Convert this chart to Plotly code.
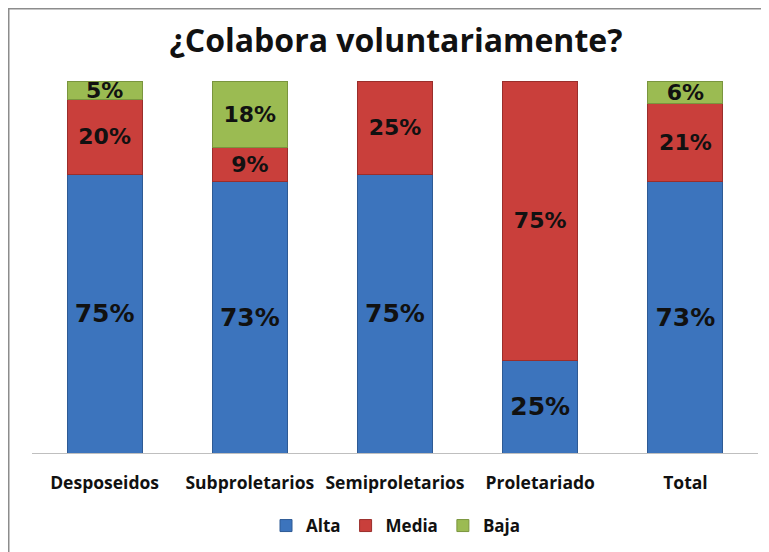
import plotly.graph_objects as go

categories = ["Desposeidos", "Subproletarios", "Semiproletarios", "Proletariado", "Total"]
alta = [75, 73, 75, 25, 73]
media = [20, 9, 25, 75, 21]
baja = [5, 18, None, None, 6]

series = [
    ("Alta", alta, "#3C74BD", "#2E5A94", 25),
    ("Media", media, "#C93F3B", "#9A2E2B", 22),
    ("Baja", baja, "#9BBB52", "#7A953E", 22),
]

fig = go.Figure()
for name, vals, col, lcol, fs in series:
    fig.add_trace(go.Bar(
        x=categories, y=vals, name=name,
        marker=dict(color=col, line=dict(color=lcol, width=1)),
        texttemplate="<b>%{y:.0f}%</b>", textposition="inside",
        insidetextanchor="middle", constraintext="none",
        textfont=dict(family="DejaVu Sans", size=fs, color="#111111"),
        hoverinfo="skip",
    ))

OFF = 8  # page margin around the figure
W, H = 769, 552
# plot area in reference pixels: x 32..758, y 81..453
L, R, T, B = 32 - OFF, W - (758 - OFF), 81 - OFF, H - (453 - OFF)
pw, ph = W - L - R, H - T - B

def px_x(p):
    return (p - OFF - L) / pw

def px_y(p):
    return (H - B - (p - OFF)) / ph

fig.update_layout(
    width=W, height=H,
    margin=dict(l=L, r=R, t=T, b=B, autoexpand=False),
    paper_bgcolor="white", plot_bgcolor="white",
    barmode="stack", bargap=0.484,
    title=dict(
        text="<b>¿Colabora voluntariamente?</b>",
        x=(396 - OFF) / W, xanchor="center", y=1 - (41 - OFF) / H, yanchor="middle",
        font=dict(family="Open Sans", size=32, color="#111111"),
    ),
    showlegend=True,
    legend=dict(
        orientation="h", x=px_x(396), xanchor="center",
        y=px_y(526), yanchor="middle",
        font=dict(family="Open Sans", size=17, color="#111111", weight="bold"),
        traceorder="normal", itemwidth=30,
    ),
    xaxis=dict(
        showline=True, linecolor="#BFBFBF", linewidth=1,
        ticks="", showgrid=False,
        tickfont=dict(family="Open Sans", size=17.5, color="#111111"),
        ticklabelstandoff=14,
    ),
    yaxis=dict(range=[0, 100], visible=False, showgrid=False),
    shapes=[
        dict(type="rect", xref="paper", yref="paper",
             x0=px_x(8.5), x1=px_x(800), y0=px_y(600), y1=px_y(8.5),
             line=dict(color="#8C8C8C", width=2), fillcolor="rgba(0,0,0,0)",
             layer="below"),
    ],
)

fig.update_xaxes(tickvals=categories,
                 ticktext=["<b>%s</b>" % c for c in categories])

fig.write_html("out.html")
